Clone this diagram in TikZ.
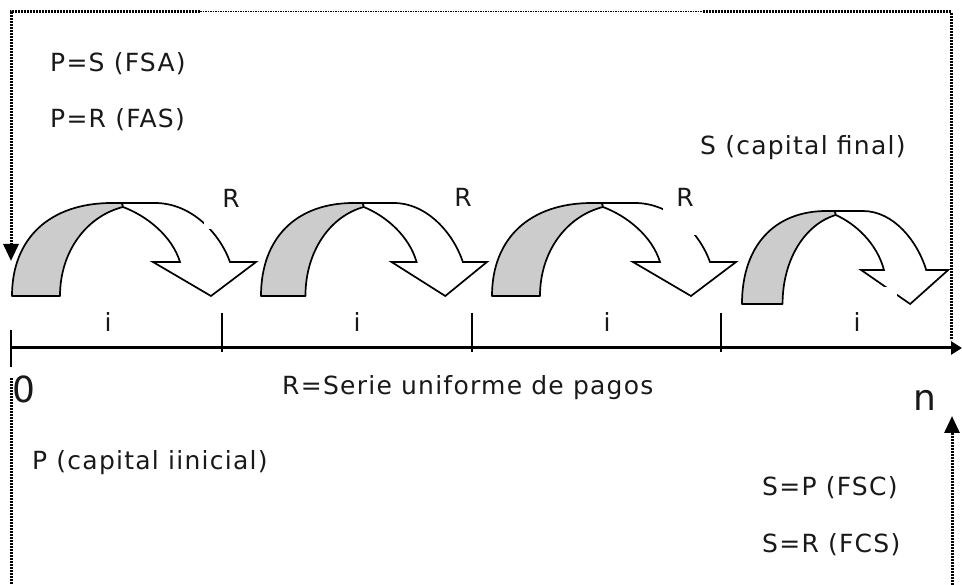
\documentclass[tikz,border=0pt]{standalone}
\usepackage{fontspec}
\setmainfont{DejaVu Sans}[LetterSpace=5]
\usetikzlibrary{arrows.meta}
\definecolor{bandgray}{RGB}{204,204,204}
\definecolor{txt}{RGB}{25,25,25}
\begin{document}
\begin{tikzpicture}[x=1pt,y=-1pt,
  curvarrow/.pic={
    \filldraw[fill=bandgray, line width=1.7pt, line join=round]
      (0,0) .. controls (0,-58) and (38,-93) .. (100,-93) -- (110,-93) -- (111,-89)
      .. controls (75,-80) and (48,-45) .. (48,0) -- cycle;
    \filldraw[fill=white, line width=1.7pt, line join=miter]
      (110,-93) -- (143,-93) .. controls (180,-93) and (208,-62) .. (218,-34)
      -- (244,-34) -- (199,0) -- (141,-34) -- (168,-34)
      .. controls (160,-60) and (135,-80) .. (111,-89) -- cycle;
  },
  lbl/.style={font=\fontsize{25}{30}\selectfont, inner sep=0pt, text=txt},
  big/.style={font=\fontsize{36}{40}\selectfont, inner sep=0pt, text=txt},
  dotline/.style={line width=3pt, dash pattern=on 2pt off 1pt},
  thindotline/.style={line width=1pt, dash pattern=on 1.5pt off 1pt},
  tipped/.style={-{Triangle[length=17pt,width=15pt]}},
  tick/.style={line width=1.5pt}
]
\useasboundingbox (0,0) rectangle (962,585);

% curved arrows
\pic at (12,296) {curvarrow};
\pic[xscale=0.926] at (261,296) {curvarrow};
\pic at (492,296) {curvarrow};
\pic[xscale=0.845] at (742,304) {curvarrow};

% coordinates
\coordinate (tl) at (11,12);
\coordinate (tlm) at (200,12);
\coordinate (trm) at (703,12);
\coordinate (tr) at (951,12);
\coordinate (lend) at (11,261);
\coordinate (rend) at (951,340);
\coordinate (bl1) at (11,378);
\coordinate (bl2) at (11,585);
\coordinate (br1) at (952,585);
\coordinate (br2) at (952,416);
\coordinate (ax0) at (10,348);
\coordinate (ax1) at (962,348);

% dotted connectors
\draw[dotline, tipped] (tlm) -- (tl) -- (lend);
\draw[thindotline] (tlm) -- (trm);
\draw[dotline] (trm) -- (tr) -- (rend);
\draw[dotline, tipped] (br1) -- (br2);
\draw[dotline] (bl1) -- (bl2);

% axis
\draw[line width=3pt, -{Triangle[length=11pt,width=13pt]}] (ax0) -- (ax1);
\draw[line width=2.5pt] (11,330) -- (11,367);
\draw[tick] (222,313) -- (222,352);
\draw[tick] (472,313) -- (472,352);
\draw[tick] (721,313) -- (721,352);

% labels
\node[lbl, anchor=base west] (psfsa) at (50,72) {P=S (FSA)};
\node[lbl, anchor=base west] (prfas) at (50,128) {P=R (FAS)};
\node[lbl, anchor=base west] (sfin) at (700,155) {S (capital final)};
\node[lbl, anchor=base, fill=white, minimum width=54pt, text depth=21pt] (r1) at (231,208) {R};
\node[lbl, anchor=base] (r2) at (463,207) {R};
\node[lbl, anchor=base, fill=white, minimum width=44pt, text depth=28pt] (r3) at (685,207) {R};
\node[lbl, anchor=base] (i1) at (108,332) {i};
\node[lbl, anchor=base] (i2) at (357,332) {i};
\node[lbl, anchor=base] (i3) at (607,332) {i};
\node[lbl, anchor=base, fill=white, minimum width=80pt, text height=45pt] (i4) at (857,332) {i};
\node[big, anchor=base west] (zero) at (12,403) {0};
\node[big, anchor=base west] (nn) at (913,411) {n};
\node[lbl, anchor=base west] (serie) at (282,395) {R=Serie uniforme de pagos};
\node[lbl, anchor=base west] (pini) at (32,470) {P (capital iinicial)};
\node[lbl, anchor=base west] (spfsc) at (762,495) {S=P (FSC)};
\node[lbl, anchor=base west] (srfcs) at (762,552) {S=R (FCS)};
\end{tikzpicture}
\end{document}
